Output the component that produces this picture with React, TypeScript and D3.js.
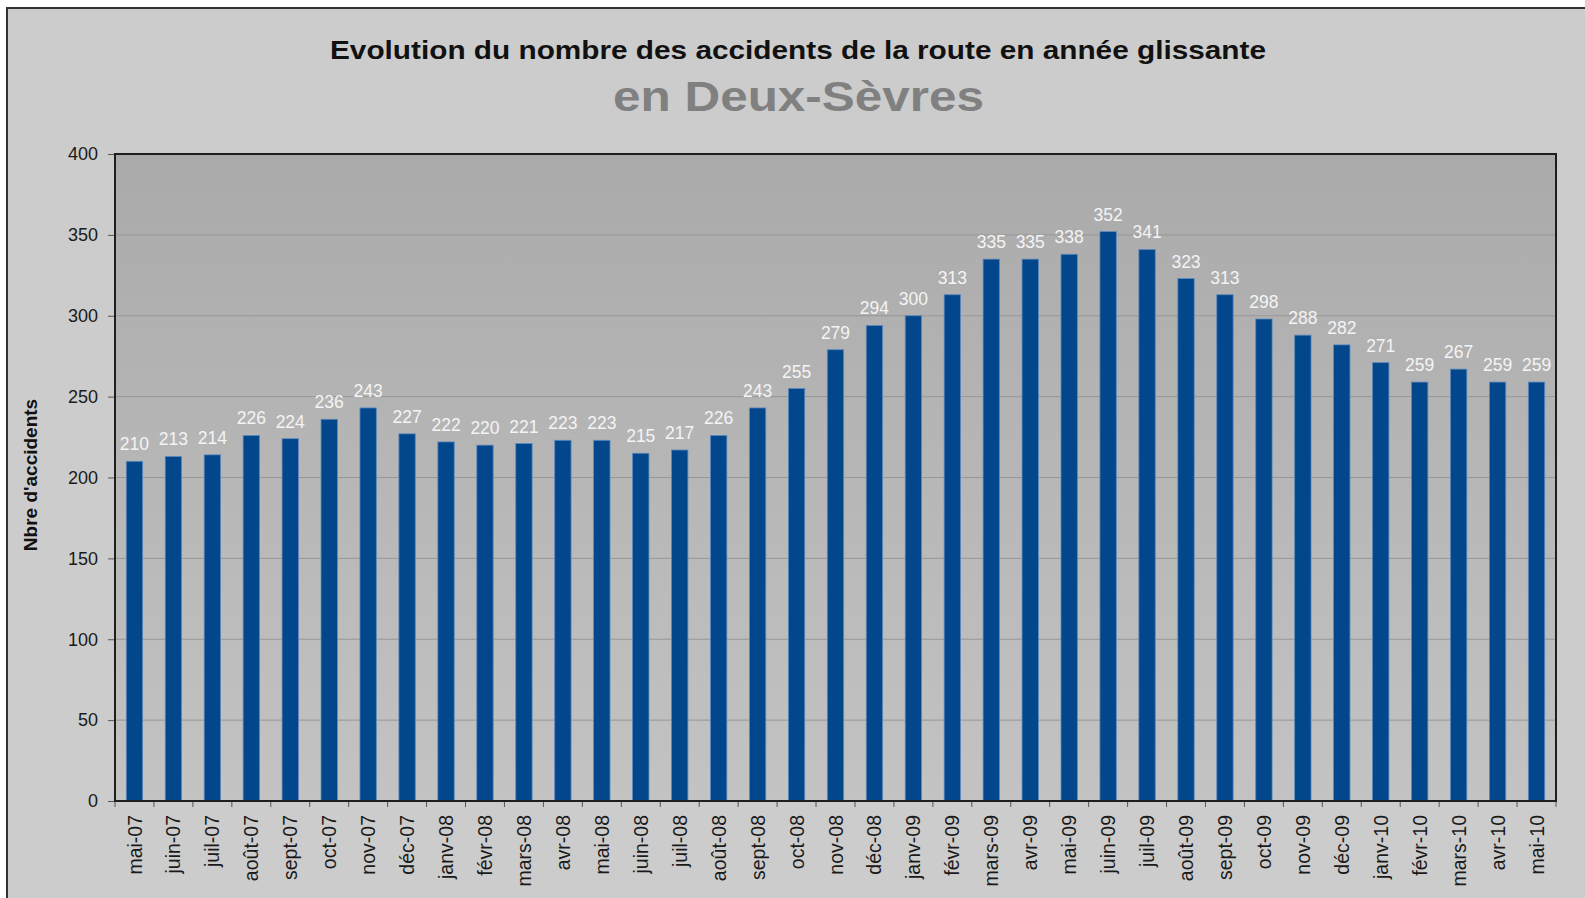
import React, { useEffect, useRef } from 'react';
import * as d3 from 'd3';

const months = [
    'mai-07', 'juin-07', 'juil-07', 'août-07', 'sept-07', 'oct-07', 'nov-07', 'déc-07',
    'janv-08', 'févr-08', 'mars-08', 'avr-08', 'mai-08', 'juin-08', 'juil-08', 'août-08',
    'sept-08', 'oct-08', 'nov-08', 'déc-08', 'janv-09', 'févr-09', 'mars-09', 'avr-09',
    'mai-09', 'juin-09', 'juil-09', 'août-09', 'sept-09', 'oct-09', 'nov-09', 'déc-09',
    'janv-10', 'févr-10', 'mars-10', 'avr-10', 'mai-10'
];

const accidents = [
    210, 213, 214, 226, 224, 236, 243, 227,
    222, 220, 221, 223, 223, 215, 217, 226,
    243, 255, 279, 294, 300, 313, 335, 335,
    338, 352, 341, 323, 313, 298, 288, 282,
    271, 259, 267, 259, 259
];

const yTicks = [0, 50, 100, 150, 200, 250, 300, 350, 400];

const title = "Evolution du nombre des accidents de la route en année glissante";
const subtitle = "en Deux-Sèvres";
const yLabel = "Nbre d'accidents";

const App = () => {
    const ref = useRef<SVGSVGElement>(null);

    useEffect(() => {
        const svg = d3.select(ref.current);
        svg.selectAll("*").remove();

        const width = 1585;
        const height = 898;
        const plot = { left: 115, top: 154, right: 1556, bottom: 801 };
        const font = "'Liberation Sans', Arial, sans-serif";

        // gradient for the plot area
        const grad = svg.append("defs").append("linearGradient")
            .attr("id", "plotBg")
            .attr("x1", 0).attr("y1", 0).attr("x2", 0).attr("y2", 1);
        grad.append("stop").attr("offset", "0%").attr("stop-color", "#aaaaaa");
        grad.append("stop").attr("offset", "100%").attr("stop-color", "#c3c3c3");

        // outer frame
        svg.append("rect")
            .attr("width", width).attr("height", height)
            .attr("fill", "#ffffff");
        svg.append("rect")
            .attr("x", 7).attr("y", 8)
            .attr("width", width + 20).attr("height", height + 20)
            .attr("fill", "#cccccc")
            .attr("stroke", "#333333")
            .attr("stroke-width", 2);

        // titles
        svg.append("text")
            .attr("x", 798).attr("y", 59)
            .attr("text-anchor", "middle")
            .attr("font-family", font)
            .attr("font-weight", "bold")
            .attr("font-size", 26.5)
            .attr("fill", "#111111")
            .attr("textLength", 936)
            .attr("lengthAdjust", "spacingAndGlyphs")
            .text(title);

        svg.append("text")
            .attr("x", 798.5).attr("y", 111)
            .attr("text-anchor", "middle")
            .attr("font-family", font)
            .attr("font-weight", "bold")
            .attr("font-size", 43)
            .attr("fill", "#808080")
            .attr("textLength", 371)
            .attr("lengthAdjust", "spacingAndGlyphs")
            .text(subtitle);

        // scales
        const x = d3.scaleBand()
            .domain(months)
            .range([plot.left, plot.right])
            .padding(0);

        const y = d3.scaleLinear()
            .domain([0, 400])
            .range([plot.bottom, plot.top]);

        // plot background
        svg.append("rect")
            .attr("x", plot.left).attr("y", plot.top)
            .attr("width", plot.right - plot.left)
            .attr("height", plot.bottom - plot.top)
            .attr("fill", "url(#plotBg)");

        // gridlines
        svg.append("g")
            .selectAll("line")
            .data(yTicks.filter(t => t > 0 && t < 400))
            .enter()
            .append("line")
            .attr("x1", plot.left).attr("x2", plot.right)
            .attr("y1", d => y(d)).attr("y2", d => y(d))
            .attr("stroke", "#979797")
            .attr("stroke-width", 1);

        // bars
        const barWidth = x.bandwidth() * 0.42;
        svg.append("g")
            .selectAll("rect")
            .data(accidents)
            .enter()
            .append("rect")
            .attr("x", (d, i) => x(months[i])! + (x.bandwidth() - barWidth) / 2)
            .attr("y", d => y(d))
            .attr("width", barWidth)
            .attr("height", d => plot.bottom - y(d))
            .attr("fill", "#02478c")
            .attr("stroke", "#5d89bd")
            .attr("stroke-width", 0.8);

        // value labels
        svg.append("g")
            .selectAll("text")
            .data(accidents)
            .enter()
            .append("text")
            .attr("x", (d, i) => x(months[i])! + x.bandwidth() / 2)
            .attr("y", d => y(d) - 11)
            .attr("text-anchor", "middle")
            .attr("font-family", font)
            .attr("font-size", 17.5)
            .attr("fill", "#f4f4f4")
            .text(d => d);

        // Y axis
        const yAxis = d3.axisLeft(y).tickValues(yTicks).tickSize(7).tickPadding(10);
        const gy = svg.append("g")
            .attr("transform", `translate(${plot.left}, 0)`)
            .call(yAxis);
        gy.select(".domain").remove();
        gy.selectAll(".tick line").attr("stroke", "#555555");
        gy.selectAll(".tick text")
            .attr("font-family", font)
            .attr("font-size", 18)
            .attr("fill", "#1a1a1a");

        // X axis: labels at band centres, ticks on band edges
        const xAxis = d3.axisBottom(x).tickSize(0);
        const gx = svg.append("g")
            .attr("transform", `translate(0, ${plot.bottom})`)
            .call(xAxis);
        gx.select(".domain").remove();
        gx.selectAll(".tick text")
            .attr("transform", "rotate(-90)")
            .attr("x", -14)
            .attr("y", 0)
            .attr("dy", "0.36em")
            .attr("text-anchor", "end")
            .attr("font-family", font)
            .attr("font-size", 19.5)
            .attr("fill", "#1a1a1a");

        const edges = months.map(m => x(m)!).concat([plot.right]);
        svg.append("g")
            .selectAll("line")
            .data(edges)
            .enter()
            .append("line")
            .attr("x1", d => d).attr("x2", d => d)
            .attr("y1", plot.bottom).attr("y2", plot.bottom + 6)
            .attr("stroke", "#555555");

        // plot border
        svg.append("rect")
            .attr("x", plot.left).attr("y", plot.top)
            .attr("width", plot.right - plot.left)
            .attr("height", plot.bottom - plot.top)
            .attr("fill", "none")
            .attr("stroke", "#1e1e1e")
            .attr("stroke-width", 2);

        // Y axis title
        svg.append("text")
            .attr("transform", "translate(37, 475) rotate(-90)")
            .attr("text-anchor", "middle")
            .attr("font-family", font)
            .attr("font-weight", "bold")
            .attr("font-size", 19)
            .attr("fill", "#111111")
            .text(yLabel);
    }, []);

    return (
        <svg
            ref={ref}
            width={1585}
            height={898}
            style={{ position: 'absolute', left: 0, top: 0, display: 'block' }}
        />
    );
};

export default App;
